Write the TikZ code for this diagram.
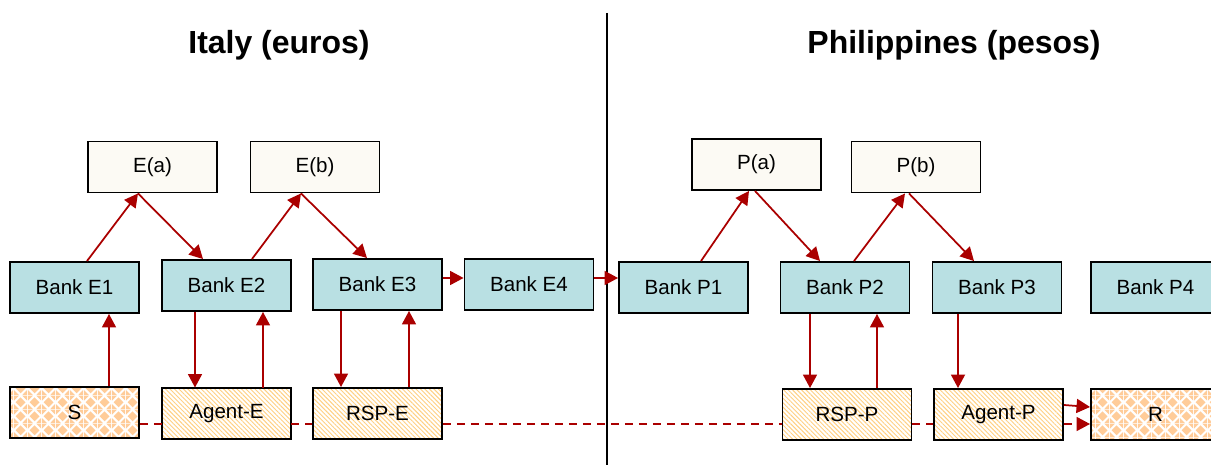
\documentclass[tikz,border=0pt]{standalone}
\usepackage{fontspec}
\setmainfont{Liberation Sans}
\usetikzlibrary{arrows.meta,patterns,patterns.meta,calc}

\definecolor{bankblue}{RGB}{185,224,227}
\definecolor{cream}{RGB}{252,250,244}
\definecolor{flowred}{RGB}{170,0,0}
\definecolor{peach}{RGB}{255,204,153}
\definecolor{stripe}{RGB}{255,208,130}

% offset rows of small diamonds
\pgfdeclarepatternformonly{peachdiamonds}{\pgfqpoint{0pt}{0pt}}{\pgfqpoint{8pt}{8pt}}{\pgfqpoint{8pt}{8pt}}{%
  \pgfpathmoveto{\pgfqpoint{4pt}{1pt}}\pgfpathlineto{\pgfqpoint{7pt}{4pt}}%
  \pgfpathlineto{\pgfqpoint{4pt}{7pt}}\pgfpathlineto{\pgfqpoint{1pt}{4pt}}\pgfpathclose
  \pgfpathmoveto{\pgfqpoint{0pt}{0pt}}\pgfpathlineto{\pgfqpoint{3pt}{0pt}}\pgfpathlineto{\pgfqpoint{0pt}{3pt}}\pgfpathclose
  \pgfpathmoveto{\pgfqpoint{8pt}{0pt}}\pgfpathlineto{\pgfqpoint{8pt}{3pt}}\pgfpathlineto{\pgfqpoint{5pt}{0pt}}\pgfpathclose
  \pgfpathmoveto{\pgfqpoint{0pt}{8pt}}\pgfpathlineto{\pgfqpoint{3pt}{8pt}}\pgfpathlineto{\pgfqpoint{0pt}{5pt}}\pgfpathclose
  \pgfpathmoveto{\pgfqpoint{8pt}{8pt}}\pgfpathlineto{\pgfqpoint{5pt}{8pt}}\pgfpathlineto{\pgfqpoint{8pt}{5pt}}\pgfpathclose
  \pgfusepath{fill}}

\tikzset{
  box/.style={draw=black, line width=1.1pt, minimum width=2.58cm, minimum height=1.02cm,
    inner sep=0pt, font=\fontsize{11.7}{14}\selectfont},
  bank/.style={box, fill=bankblue},
  ledger/.style={box, fill=cream},
  agent/.style={box, preaction={fill=white},
    pattern={Lines[angle=-45,distance=1.8pt,line width=0.55pt]}, pattern color=stripe},
  party/.style={box, preaction={fill=white}, pattern=peachdiamonds, pattern color=peach},
  flow/.style={draw=flowred, line width=1pt, -{Triangle[length=0.27cm,width=0.28cm]}},
  wire/.style={draw=flowred, line width=0.9pt, dash pattern=on 0.16cm off 0.12cm},
  title/.style={font=\fontsize{18.2}{21}\selectfont\bfseries}
}

\begin{document}
\begin{tikzpicture}[x=0.02cm, y=-0.02cm]
  %%%%% START %%%%%
  \useasboundingbox (0,0) rectangle (1211,465);

  \node[title] (italy) at (279,45) {Italy (euros)};
  \node[title] (phil) at (954,45) {Philippines (pesos)};

  \coordinate (divtop) at (607,13);
  \coordinate (divbot) at (607,465);
  \draw[line width=1pt] (divtop) -- (divbot);

  % ledgers
  \node[ledger] (Ea) at (152.5,167) {E(a)};
  \node[ledger] (Eb) at (315,167) {E(b)};
  \node[ledger] (Pa) at (756.5,164.5) {P(a)};
  \node[ledger] (Pb) at (916,167) {P(b)};

  % banks
  \node[bank] (E1) at (74.5,287.5) {Bank E1};
  \node[bank] (E2) at (226.5,285.5) {Bank E2};
  \node[bank] (E3) at (377.5,284.5) {Bank E3};
  \node[bank] (E4) at (529,284.5) {Bank E4};
  \node[bank] (P1) at (683.5,287.5) {Bank P1};
  \node[bank] (P2) at (845,287.5) {Bank P2};
  \node[bank] (P3) at (997,287.5) {Bank P3};
  \node[bank] (P4) at (1155.5,287.5) {Bank P4};

  % senders, agents, receivers
  \node[party] (S) at (74.5,412.5) {S};
  \node[agent] (AgentE) at (226.5,413.5) {Agent-E};
  \node[agent] (RSPE) at (377.5,413.5) {RSP-E};
  \node[agent] (RSPP) at (847,414.5) {RSP-P};
  \node[agent] (AgentP) at (998.5,414.5) {Agent-P};
  \node[party] (R) at (1155.5,414.5) {R};

  % up and down through the ledgers
  \draw[flow] ([xshift=0.25cm]E1.north) -- ([xshift=-0.29cm]Ea.south);
  \draw[flow] ([xshift=-0.29cm]Ea.south) -- ([xshift=-0.47cm]E2.north);
  \draw[flow] ([xshift=0.51cm]E2.north) -- ([xshift=-0.28cm]Eb.south);
  \draw[flow] ([xshift=-0.28cm]Eb.south) -- ([xshift=-0.21cm]E3.north);
  \draw[flow] ([xshift=0.35cm]P1.north) -- ([xshift=-0.15cm]Pa.south);
  \draw[flow] ([xshift=-0.03cm]Pa.south) -- ([xshift=-0.5cm]P2.north);
  \draw[flow] ([xshift=0.18cm]P2.north) -- ([xshift=-0.22cm]Pb.south);
  \draw[flow] ([xshift=-0.14cm]Pb.south) -- ([xshift=-0.46cm]P3.north);

  % bank to bank
  \draw[flow] ([yshift=0.13cm]E3.east) -- ([yshift=0.13cm]E3.east -| E4.west);
  \draw[flow] ([yshift=0.13cm]E4.east) -- ([yshift=0.13cm]E4.east -| P1.west);

  % banks and bottom row
  \draw[flow] ([xshift=0.69cm]S.north) -- ([xshift=0.69cm]S.north |- E1.south);
  \draw[flow] ([xshift=-0.63cm]E2.south) -- ([xshift=-0.63cm]E2.south |- AgentE.north);
  \draw[flow] ([xshift=0.73cm]AgentE.north) -- ([xshift=0.73cm]AgentE.north |- E2.south);
  \draw[flow] ([xshift=-0.73cm]E3.south) -- ([xshift=-0.73cm]E3.south |- RSPE.north);
  \draw[flow] ([xshift=0.63cm]RSPE.north) -- ([xshift=0.63cm]RSPE.north |- E3.south);
  \draw[flow] ([xshift=-0.7cm]P2.south) -- ([xshift=-0.7cm]P2.south |- RSPP.north);
  \draw[flow] ([xshift=0.6cm]RSPP.north) -- ([xshift=0.6cm]RSPP.north |- P2.south);
  \draw[flow] ([xshift=-0.78cm]P3.south) -- ([xshift=-0.78cm]P3.south |- AgentP.north);
  \draw[flow] ([yshift=0.19cm]AgentP.east) -- ([yshift=0.15cm]R.west);

  % dashed link along the bottom
  \draw[wire] ([yshift=-0.23cm]S.east) -- ([yshift=-0.23cm]S.east -| AgentE.west);
  \draw[wire] ([yshift=-0.21cm]AgentE.east) -- ([yshift=-0.21cm]AgentE.east -| RSPE.west);
  \draw[wire] ([yshift=-0.21cm]RSPE.east) -- ([yshift=-0.21cm]RSPE.east -| RSPP.west);
  \draw[wire] ([yshift=-0.19cm]RSPP.east) -- ([yshift=-0.19cm]RSPP.east -| AgentP.west);
  \draw[wire, -{Triangle[length=0.27cm,width=0.28cm]}] ([yshift=-0.19cm]AgentP.east) -- ([yshift=-0.19cm]AgentP.east -| R.west);
  %%%%% END %%%%%
\end{tikzpicture}
\end{document}
